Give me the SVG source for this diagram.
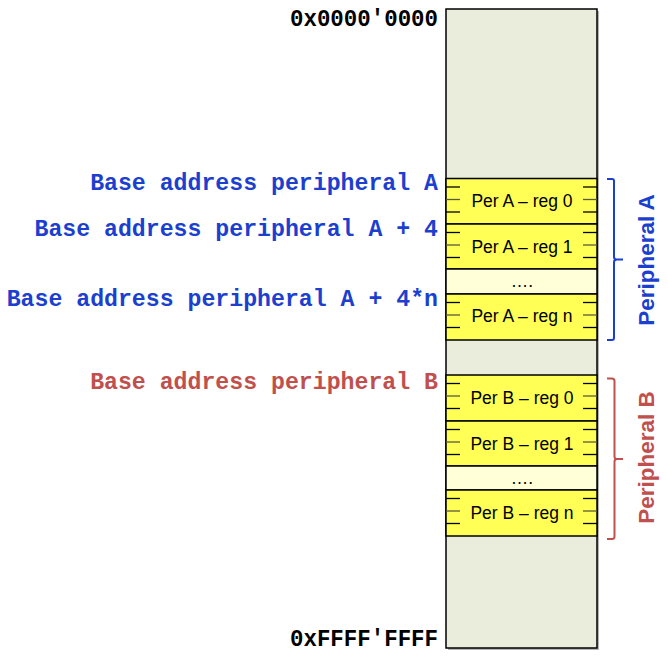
<svg xmlns="http://www.w3.org/2000/svg" width="668" height="667" viewBox="0 0 668 667">
<style>
.addr{font-family:"Liberation Mono","Courier New",monospace;font-weight:bold;font-size:23.2px;text-anchor:end}
.blue{fill:#1C3FCF}
.red{fill:#C0504D}
.reg{fill:#FFFF55;stroke:#000;stroke-width:1.5}
.dots{fill:#FFFFD8;stroke:#000;stroke-width:1.5}
.rt{font-family:"Liberation Sans",Arial,sans-serif;font-size:17.5px;fill:#000;text-anchor:middle}
.tick{stroke:#000;stroke-width:1.3}
.tickm{stroke:#5a5a3a;stroke-width:1.3}
.per{font-family:"Liberation Sans",Arial,sans-serif;font-weight:bold;font-size:22.5px;text-anchor:middle}
.brace{fill:none;stroke-width:2}
</style>
<defs>
<g id="ticks">
<line class="tick" x1="446" y1="8.5" x2="460" y2="8.5"/>
<line class="tickm" x1="446" y1="21" x2="460" y2="21"/>
<line class="tick" x1="446" y1="33.5" x2="460" y2="33.5"/>
<line class="tick" x1="583" y1="8.5" x2="597" y2="8.5"/>
<line class="tickm" x1="583" y1="21" x2="597" y2="21"/>
<line class="tick" x1="583" y1="33.5" x2="597" y2="33.5"/>
</g>
</defs>
<g id="memory">
<rect x="448" y="11" width="151" height="639" fill="#b5b5b5"/>
<rect x="446" y="9" width="151" height="639" fill="#EAEDDC" stroke="#000" stroke-width="1.5"/>
</g>
<g id="addr-start"><text class="addr" x="438" y="26" fill="#000" textLength="148" lengthAdjust="spacingAndGlyphs">0x0000'0000</text></g>
<g id="addr-end"><text class="addr" x="438" y="646" fill="#000" textLength="148" lengthAdjust="spacingAndGlyphs">0xFFFF'FFFF</text></g>
<g id="label-a0"><text class="addr blue" x="438" y="190">Base address peripheral A</text></g>
<g id="label-a1"><text class="addr blue" x="438" y="236">Base address peripheral A + 4</text></g>
<g id="label-an"><text class="addr blue" x="438" y="306">Base address peripheral A + 4*n</text></g>
<g id="label-b0"><text class="addr red" x="438" y="389">Base address peripheral B</text></g>

<g id="perA-reg0">
<rect class="reg" x="446" y="178.5" width="151" height="45.5"/>
<use href="#ticks" y="178.5"/>
<text class="rt" x="522" y="207">Per A – reg 0</text>
</g>
<g id="perA-reg1">
<rect class="reg" x="446" y="224" width="151" height="45"/>
<use href="#ticks" y="224"/>
<text class="rt" x="522" y="252.5">Per A – reg 1</text>
</g>
<g id="perA-dots">
<rect class="dots" x="446" y="269" width="151" height="25"/>
<text class="rt" x="522" y="287">….</text>
</g>
<g id="perA-regn">
<rect class="reg" x="446" y="294" width="151" height="46"/>
<use href="#ticks" y="294"/>
<text class="rt" x="522" y="322">Per A – reg n</text>
</g>

<g id="perB-reg0">
<rect class="reg" x="446" y="375" width="151" height="46"/>
<use href="#ticks" y="375"/>
<text class="rt" x="522" y="404">Per B – reg 0</text>
</g>
<g id="perB-reg1">
<rect class="reg" x="446" y="421" width="151" height="45"/>
<use href="#ticks" y="421"/>
<text class="rt" x="522" y="449.5">Per B – reg 1</text>
</g>
<g id="perB-dots">
<rect class="dots" x="446" y="466" width="151" height="24"/>
<text class="rt" x="522" y="484">….</text>
</g>
<g id="perB-regn">
<rect class="reg" x="446" y="490" width="151" height="46"/>
<use href="#ticks" y="490"/>
<text class="rt" x="522" y="519">Per B – reg n</text>
</g>

<g id="connectors">
<path class="brace" stroke="#1C3FCF" d="M607,179 H612 Q614,179 614,181 V257 Q614,259.5 617,259.5 H623 M614,262 Q614,259.5 617,259.5 M614,262 V338 Q614,340 612,340 H607"/>
<path class="brace" stroke="#C0504D" d="M607,378.5 H612 Q614.5,378.5 614.5,381 V456.5 Q614.5,459 617,459 H623 M614.5,461.5 Q614.5,459 617,459 M614.5,461.5 V536.5 Q614.5,539 612,539 H607"/>
</g>
<g id="label-perA"><text class="per blue" transform="translate(654,260) rotate(-90)">Peripheral A</text></g>
<g id="label-perB"><text class="per red" transform="translate(654,457.5) rotate(-90)">Peripheral B</text></g>
</svg>
